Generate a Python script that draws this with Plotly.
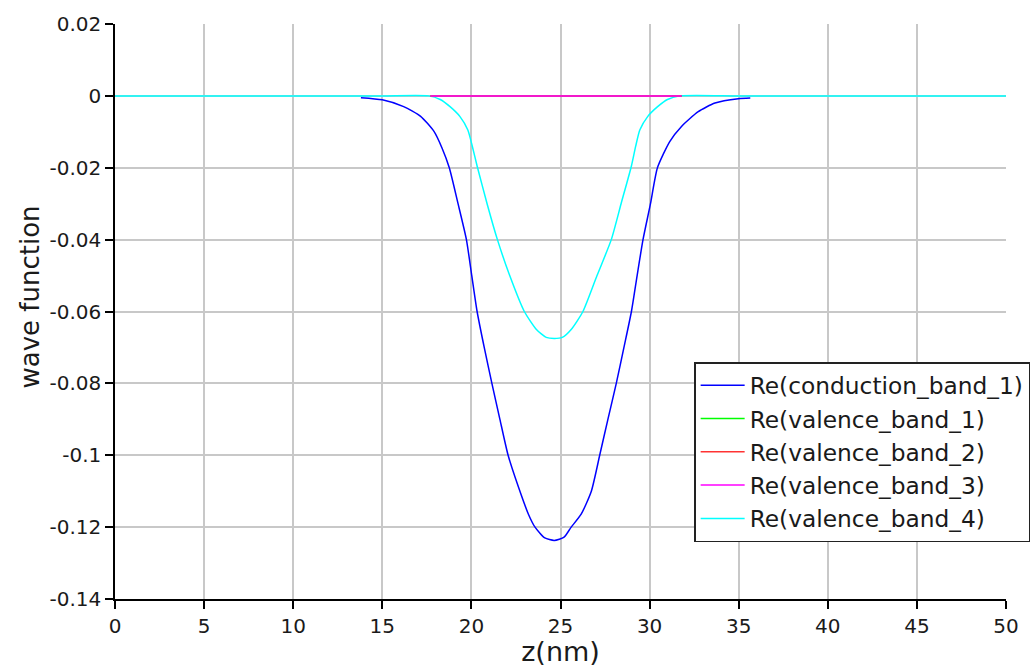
import plotly.graph_objects as go

# Position along the growth direction (nm) and real part of each envelope
z_conduction_1 = [13.8, 15.0, 16.2, 17.15, 17.9, 18.35, 18.76, 19.25, 19.72, 20.02,
                  20.32, 20.72, 21.15, 21.6, 22.06, 22.65, 23.2, 23.57, 24.12, 24.65,
                  25.2, 25.6, 26.16, 26.73, 27.2, 27.66, 28.13, 28.56, 28.98, 29.3,
                  29.63, 30.05, 30.44, 31.13, 31.79, 32.73, 33.67, 34.98, 35.65]
re_conduction_1 = [-0.0005, -0.0011, -0.003, -0.0057, -0.0099, -0.0145, -0.020, -0.030, -0.040, -0.050,
                   -0.060, -0.070, -0.080, -0.090, -0.100, -0.109, -0.1164, -0.120, -0.1230, -0.1237,
                   -0.1228, -0.120, -0.1164, -0.110, -0.100, -0.090, -0.080, -0.070, -0.060, -0.050,
                   -0.040, -0.030, -0.020, -0.0127, -0.0085, -0.0044, -0.002, -0.0008, -0.0006]

z_valence_4 = [0.0, 5.0, 10.0, 15.0, 17.6, 18.25, 18.8, 19.35, 19.8, 20.05,
               20.32, 20.88, 21.46, 22.15, 22.97, 23.65, 24.2, 24.65, 25.1, 25.6,
               26.26, 27.05, 27.85, 28.4, 28.98, 29.22, 29.45, 29.9, 30.45, 31.0,
               31.7, 35.0, 40.0, 45.0, 50.0]
re_valence_4 = [0.0, 0.0, 0.0, 0.0, 0.0, -0.001, -0.003, -0.0057, -0.0095, -0.0140,
                -0.0195, -0.030, -0.040, -0.050, -0.060, -0.065, -0.0672, -0.0675, -0.0672, -0.065,
                -0.060, -0.050, -0.040, -0.030, -0.0195, -0.0140, -0.0095, -0.0057, -0.003, -0.001,
                0.0, 0.0, 0.0, 0.0, 0.0]

z_valence_123 = [17.7, 20.0, 22.5, 25.0, 27.5, 30.0, 31.8]
re_valence_1 = [0.0, 0.0, 0.0, 0.0, 0.0, 0.0, 0.0]
re_valence_2 = [0.0, 0.0, 0.0, 0.0, 0.0, 0.0, 0.0]
re_valence_3 = [0.0, 0.0, 0.0, 0.0, 0.0, 0.0, 0.0]

x_ticks = [0, 5, 10, 15, 20, 25, 30, 35, 40, 45, 50]
x_tick_text = ["0", "5", "10", "15", "20", "25", "30", "35", "40", "45", "50"]
y_ticks = [0.02, 0.0, -0.02, -0.04, -0.06, -0.08, -0.1, -0.12, -0.14]
y_tick_text = ["0.02", "0", "-0.02", "-0.04", "-0.06", "-0.08", "-0.1", "-0.12", "-0.14"]

FONT = "DejaVu Sans"
TEXT = "#1a1a1a"

fig = go.Figure()

# drawn back to front; legendrank keeps the legend in band order
series = [
    ("Re(valence_band_4)", z_valence_4, re_valence_4, "#00ffff", 5),
    ("Re(valence_band_1)", z_valence_123, re_valence_1, "#00ff00", 2),
    ("Re(valence_band_2)", z_valence_123, re_valence_2, "#ff3333", 3),
    ("Re(valence_band_3)", z_valence_123, re_valence_3, "#ff00ff", 4),
    ("Re(conduction_band_1)", z_conduction_1, re_conduction_1, "#0000ff", 1),
]
for name, zs, vals, color, rank in series:
    fig.add_trace(go.Scatter(
        x=zs, y=vals, mode="lines", name=name,
        line=dict(color=color, width=1.5, shape="spline", smoothing=0.6),
        legendrank=rank,
    ))

axis_common = dict(
    showline=True, linecolor="black", linewidth=1.5,
    ticks="outside", ticklen=8, tickwidth=1.5, tickcolor="black",
    showgrid=True, gridcolor="#c8c8c8", gridwidth=1.5,
    zeroline=False, mirror=False,
    tickfont=dict(family=FONT, size=20, color=TEXT),
)

fig.update_xaxes(
    range=[0, 50], tickmode="array", tickvals=x_ticks, ticktext=x_tick_text,
    title=dict(text="z(nm)", font=dict(family=FONT, size=27, color=TEXT), standoff=4),
    **axis_common,
)
fig.update_yaxes(
    range=[-0.14, 0.02], tickmode="array", tickvals=y_ticks, ticktext=y_tick_text,
    **axis_common,
)

fig.update_layout(
    width=1035, height=667,
    margin=dict(l=115, r=29, t=24, b=68, autoexpand=False),
    paper_bgcolor="white", plot_bgcolor="white",
    font=dict(family=FONT, color=TEXT),
    showlegend=True,
    legend=dict(
        x=0.65, y=0.412, xanchor="left", yanchor="top",
        bgcolor="white", bordercolor="#222222", borderwidth=1.5,
        font=dict(family=FONT, size=23.3, color=TEXT),
        traceorder="normal", itemwidth=44,
    ),
    annotations=[dict(
        text="wave function", textangle=-90,
        xref="paper", yref="paper", x=-0.095, y=0.525,
        xanchor="center", yanchor="middle", showarrow=False,
        font=dict(family=FONT, size=26, color=TEXT),
    )],
)

fig.write_html("out.html")
